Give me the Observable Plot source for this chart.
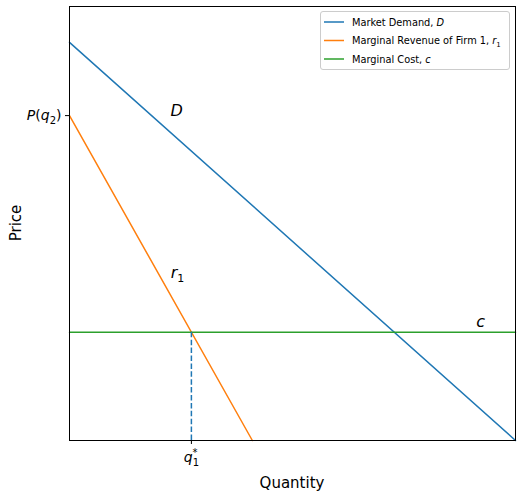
<!DOCTYPE html>
<html><head><meta charset="utf-8">
<script src="https://cdn.jsdelivr.net/npm/d3@7"></script>
<script src="https://cdn.jsdelivr.net/npm/@observablehq/plot@0.6"></script>
<style>body{margin:0;background:#fff} svg{font-family:"DejaVu Sans",sans-serif}</style>
</head><body><div id="chart"></div>
<script>
// Data (economic model)
const demandQ = [0, 10];
const demandP = [10, 0];
const mrQ = [0, 4.1];
const mrP = [8.16, 0];
const costQ = [0, 10];
const costP = [2.72, 2.72];
const pq2 = 8.16;       // P(q2)
const q1Star = 2.733;   // q1*
const seriesNames = ["Market Demand, D", "Marginal Revenue of Firm 1, r1", "Marginal Cost, c"];
const colors = ["#1f77b4", "#ff7f0e", "#2ca02c"];
const annotations = [
  {label: "D", q: 2.4, p: 8.27},
  {label: "r", sub: "1", q: 2.42, p: 4.2},
  {label: "c", q: 9.22, p: 2.99}
];

const demand = demandQ.map((q, i) => ({q, p: demandP[i]}));
const mr = mrQ.map((q, i) => ({q, p: mrP[i]}));
const cost = costQ.map((q, i) => ({q, p: costP[i]}));

const W = 522, H = 497;
const chart = Plot.plot({
  width: W, height: H,
  marginLeft: 69, marginRight: 7, marginTop: 6, marginBottom: 57,
  x: {domain: [0, 10]},
  y: {domain: [0, 10.9]},
  style: {fontFamily: "DejaVu Sans", background: "#fff", overflow: "visible"},
  marks: [
    Plot.line(demand, {x: "q", y: "p", stroke: colors[0], strokeWidth: 1.5}),
    Plot.line(mr, {x: "q", y: "p", stroke: colors[1], strokeWidth: 1.5}),
    Plot.line(cost, {x: "q", y: "p", stroke: colors[2], strokeWidth: 1.5}),
    Plot.ruleX([q1Star], {y1: 0, y2: costP[0], stroke: colors[0], strokeWidth: 1.5, strokeDasharray: "5.5,2.4"}),
    Plot.text(annotations, {x: "q", y: "p", text: "label", fontSize: 16, fontStyle: "italic", fill: "black", textAnchor: "middle", lineAnchor: "middle", className: "anno"}),
    Plot.frame({stroke: "black", strokeWidth: 1}),
    Plot.axisY([pq2], {tickSize: 4, tickPadding: 4, fontSize: 14, tickFormat: () => "P(q2)", label: null}),
    Plot.axisX([q1Star], {tickSize: 4, tickPadding: 8, fontSize: 14, tickFormat: () => "q1*", label: null})
  ]
});
document.getElementById("chart").appendChild(chart);

const svg = d3.select(chart);
// Rewrite tick labels with math formatting
svg.selectAll('[aria-label="y-axis tick label"] text').each(function() {
  const t = d3.select(this); t.text("");
  t.append("tspan").attr("font-style", "italic").text("P");
  t.append("tspan").text("(");
  t.append("tspan").attr("font-style", "italic").text("q");
  t.append("tspan").attr("font-size", 10).attr("dy", 4).text("2");
  t.append("tspan").attr("dy", -4).text(")");
});
svg.selectAll('[aria-label="x-axis tick label"] text').each(function() {
  const t = d3.select(this); t.text("");
  t.append("tspan").attr("font-style", "italic").text("q");
  t.append("tspan").attr("font-size", 10).attr("dy", 4).text("1");
  t.append("tspan").attr("font-size", 10).attr("dx", -6.4).attr("dy", -10).text("*");
});
svg.selectAll('.anno text').each(function(d, i) {
  const t = d3.select(this);
  const a = annotations[i];
  if (a && a.sub) {
    t.text("");
    t.append("tspan").text(a.label);
    t.append("tspan").attr("font-size", 11).attr("font-style", "normal").attr("dy", 4).text(a.sub);
  }
});

// Axis labels
svg.append("text").attr("x", 69 + 446 / 2).attr("y", 488).attr("text-anchor", "middle")
  .attr("font-size", 15).text("Quantity");
svg.append("text").attr("transform", `translate(21,${6 + 434 / 2}) rotate(-90)`).attr("text-anchor", "middle")
  .attr("font-size", 15).text("Price");

// Legend
const lg = svg.append("g").attr("text-anchor", "start");
lg.append("rect").attr("x", 320.5).attr("y", 11.5).attr("width", 189).attr("height", 58).attr("rx", 2.5)
  .attr("fill", "white").attr("fill-opacity", 0.8).attr("stroke", "#cccccc");
const legendMath = [["D", null], ["r", "1"], ["c", null]];
seriesNames.forEach((name, i) => {
  const y = 22 + i * 18.5;
  lg.append("line").attr("x1", 324).attr("x2", 344).attr("y1", y).attr("y2", y)
    .attr("stroke", colors[i]).attr("stroke-width", 1.5);
  const t = lg.append("text").attr("x", 352).attr("y", y + 3.6).attr("font-size", 9.8).attr("text-anchor", "start");
  const base = name.slice(0, name.lastIndexOf(",") + 2);
  t.append("tspan").text(base);
  t.append("tspan").attr("font-style", "italic").text(legendMath[i][0]);
  if (legendMath[i][1]) t.append("tspan").attr("font-size", 7).attr("dy", 2.5).text(legendMath[i][1]);
});
</script>
</body></html>
